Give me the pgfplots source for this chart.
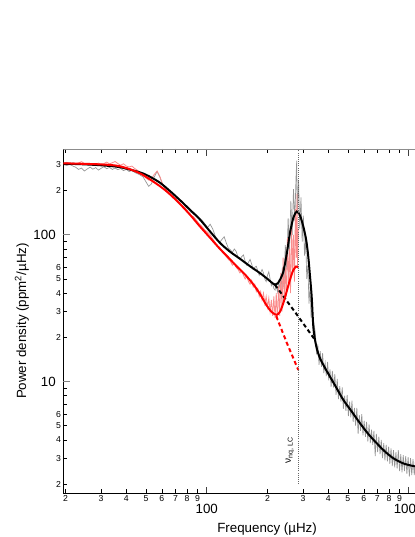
\documentclass[border=0pt]{standalone}
\usepackage{fontspec}
\setmainfont{Liberation Sans}
\usepackage{pgfplots}
\pgfplotsset{compat=1.18}

\definecolor{specgrey}{gray}{0.58}
\definecolor{specpink}{RGB}{250,140,140}

\begin{document}
\begin{tikzpicture}
\begin{axis}[
  scale only axis,
  width=265.3pt, height=258.3pt,
  xmode=log, ymode=log,
  xmin=19.5, xmax=1100, ymin=1.73, ymax=385,
  xtick={20,30,40,50,60,70,80,90,200,300,400,500,600,700,800,900},
  xticklabels={2,3,4,5,6,7,8,9,2,3,4,5,6,7,8,9},
  ytick={2,3,4,5,6,7,8,9,20,30,40,50,60,70,80,90,200,300},
  yticklabels={2,3,4,5,6,,,,2,3,4,5,6,,,,2,3},
  minor xtick={}, minor ytick={},
  ytick pos=left,
  extra x ticks={100,1000},
  extra x tick labels={100,1000},
  extra y ticks={10,100},
  extra y tick labels={10,100},
  extra x tick style={major tick length=5pt,
    tick style={line width=0.8pt,black!75},
    xticklabel style={font=\fontsize{10}{12}\selectfont,yshift=-6.5pt}},
  extra y tick style={major tick length=5pt,
    tick style={line width=0.8pt,black!50},
    yticklabel style={font=\fontsize{10}{12}\selectfont,xshift=-4pt}},
  tick align=inside,
  major tick length=3pt,
  tick style={black,line width=0.5pt},
  axis line style={black,line width=0.6pt},
  xticklabel style={font=\fontsize{6.5}{7}\selectfont,inner sep=1.5pt},
  yticklabel style={font=\fontsize{6.5}{7}\selectfont,inner sep=1.5pt},
  xlabel={Frequency (µHz)},
  ylabel={Power density (ppm\textsuperscript{2}/µHz)},
  label style={font=\fontsize{10}{12}\selectfont},
  xlabel style={at={(axis description cs:0.576,-0.1045)},anchor=center},
  ylabel style={at={(axis description cs:-0.117,0.5)},anchor=center},
  clip=true,
]

% observed spectrum, full range
\addplot[specgrey,line width=0.5pt] coordinates {
(19.6,300) (20.3,297) (21.0,301) (21.8,294) (22.5,288) (23.2,279) (24.0,285)
(24.8,272) (25.6,281) (26.5,289) (27.3,280) (28.2,287) (29.1,276) (30.0,284)
(31.0,291) (32.0,282) (33.0,288) (34.1,279) (35.2,285) (36.3,278) (37.5,283)
(38.7,274) (40.0,279) (41.3,270) (42.6,275) (44.0,266) (45.4,261) (46.9,255)
(48.4,248) (50.0,230) (51.6,214) (53.2,222) (55.0,248) (56.8,270) (58.6,248)
(60.5,218) (62.5,212) (64.5,200) (66.6,196) (68.8,189) (71.0,178) (73.3,175)
(75.7,169) (78.1,158) (80.7,150) (83.3,143) (86.0,140) (88.8,137) (91.7,131)
(94.7,126) (97.8,119) (101,112) (104,118) (107,110) (110,99) (113,92) (116,89)
(119,93) (122,97) (125,88) (128,81) (131,79) (134,76) (137,80) (140,77)
(143,70) (146,68) (149,71) (152,73) (155,66) (158,62) (161,65) (164,68)
(167,63) (170,58) (173,60) (176,61) (179,57) (182,53) (185,55) (188,58)
(191,55) (194,50) (197,48) (200,53) (203,56) (206,50) (209,45) (212,47)
(215,43) (218,42) (221,46) (224,41) (227,48) (230,44)
(233,40) (237,60) (241,44) (245,85) (249,58) (253,130) (257,80) (261,170)
(265,100) (269,205) (273,125) (277,250) (279,320) (281,140) (285,235)
(289,110) (293,180) (297,90) (301,135) (305,72) (309,95) (313,50) (317,62)
(321,34) (325,44) (329,27) (333,33) (337,21) (341,24)
(345,21.5) (350,15.3) (355,17.9) (360,13.0) (365,16.1) (370,12.6) (375,15.6)
(380,11.4) (386,13.4) (391,10.9) (397,13.6) (402,10.2) (408,12.1) (413,9.2)
(419,11.8) (425,9.1) (431,11.2) (437,8.1) (443,10.4) (449,7.6) (456,9.3)
(462,7.3) (469,9.1) (475,6.5) (482,8.0) (489,6.3) (496,8.1) (503,5.8)
(510,7.3) (517,5.7) (524,7.4) (531,5.3) (539,6.6) (546,5.0) (554,6.6)
(562,4.4) (570,5.9) (578,4.6) (586,6.0) (594,4.3) (602,5.4) (611,4.2)
(619,5.3) (628,3.9) (637,5.1) (646,3.8) (655,4.7) (664,3.7) (673,4.6)
(683,3.1) (692,4.4) (702,3.3) (712,4.2) (722,3.2) (732,4.0) (742,3.0)
(753,3.8) (763,2.9) (774,3.7) (785,2.85) (796,3.6) (807,2.75) (818,3.5)
(830,2.65) (841,3.4) (853,2.6) (865,3.3) (877,2.55) (889,3.4) (902,2.45)
(914,3.2) (927,2.4) (940,3.15) (953,2.45) (967,3.1) (980,2.35) (994,3.05)
(1008,2.25) (1022,3.0) (1036,2.3) (1051,2.95) (1066,2.3) (1081,2.9)
(1096,2.3)
};

% observed spectrum, long cadence
\addplot[specpink,line width=0.6pt] coordinates {
(19.6,308) (20.3,312) (21.0,305) (21.8,310) (22.5,303) (23.2,309) (24.0,315)
(24.8,306) (25.6,299) (26.5,304) (27.3,296) (28.2,302) (29.1,308) (30.0,300)
(31.0,306) (32.0,313) (33.0,304) (34.1,310) (35.2,316) (36.3,306) (37.5,298)
(38.7,305) (40.0,294) (41.3,290) (42.6,294) (44.0,283) (45.4,275) (46.9,266)
(48.4,255) (50.0,244) (51.6,236) (53.2,240) (55.0,258) (56.8,272) (58.6,250)
(60.5,222) (62.5,205) (64.5,197) (66.6,190) (68.8,181) (71.0,175) (73.3,166)
(75.7,158) (78.1,153) (80.7,142) (83.3,136) (86.0,133) (88.8,126) (91.7,119)
(94.7,114) (97.8,108) (101,104) (104,100) (107,94) (110,89) (113,84) (116,82)
(119,78) (122,75) (125,71) (128,68) (131,66) (134,62) (137,64) (140,60)
(143,58) (146,55) (149,57) (152,53) (155,50) (158,52) (161,48) (164,46)
(167,49) (170,44) (173,46) (176,41) (179,43) (182,38) (185,41) (188,36)
(191,40) (194,34) (197,38) (200,32) (203,37) (206,30) (209,36) (212,28)
(215,38) (218,27) (221,40) (224,26) (227,45) (230,28) (233,55) (236,30)
(239,70) (242,35) (245,60) (248,38) (251,95) (254,45) (257,80) (260,40)
(263,120) (266,55) (269,100) (272,48) (275,150) (278,70) (280,190) (282,60)
(284,110)
};

% fit, full range
\addplot[black,line width=1.5pt,smooth,tension=0.5] coordinates {
(19.5,305) (23.6,303) (29.7,298) (37.2,289) (46.8,266) (52,250) (58.8,226)
(66,198) (73.8,172) (82.7,148) (92.6,127) (103.5,106) (116.4,88) (130,77)
(146.2,68.6) (164,61) (183.6,54.8) (200,50) (210,47.2) (217.8,45.8) (224,46.5)
(230,49) (239.5,56) (248.6,73) (258.4,103) (268.8,131) (279,144) (289.8,135)
(300.8,114) (311,92) (318.4,71) (324.6,52.6) (331,38) (337,24) (343.8,19.2)
(352,16.5) (363.9,14.4) (385,12.4) (407.7,10.8) (440,9) (474.6,7.5) (520,6.3)
(574,5.2) (630,4.4) (694,3.8) (760,3.35) (839,3.0) (950,2.75) (1100,2.62)
};
\addplot[black,line width=1.5pt,dash pattern=on 3pt off 2.2pt] coordinates {
(217.8,45.6) (274.4,29.6) (343.8,19.2)
};

% fit, long cadence
\addplot[red,line width=1.5pt,smooth,tension=0.5] coordinates {
(19.5,307) (29.7,302) (37.2,293) (46.8,262) (58.8,214) (66,188) (73.8,162)
(82.7,137) (92.6,114) (103.5,96) (116.4,80) (128,70) (140.7,61) (155,53.5)
(170,46) (183.6,39.5) (198,33) (210.6,29.6) (222,28.5) (230.7,29.9)
(239.5,34.2) (248.6,40.9) (258.4,49.3) (267.4,56.8) (276.8,60.8) (283.2,59.6)
};
\addplot[red,line width=1.5pt,dash pattern=on 3pt off 2.2pt] coordinates {
(221,27.9) (248.6,18.5) (284,12)
};

% Nyquist frequency
\addplot[black!60,line width=0.6pt,densely dotted] coordinates {
(283.2,2.0) (283.2,385)
};

\node[rotate=90,font=\fontsize{7.5}{9}\selectfont,inner sep=0pt]
  at (axis cs:258,3.42) {ν\textsubscript{nq, LC}};

\draw[black!45,line width=0.6pt] (rel axis cs:0,1) -- (rel axis cs:1,1);
\end{axis}
\pgfresetboundingbox
\path[use as bounding box] (-47.5pt,-32.8pt) rectangle (263.75pt,370pt);
\end{tikzpicture}
\end{document}
